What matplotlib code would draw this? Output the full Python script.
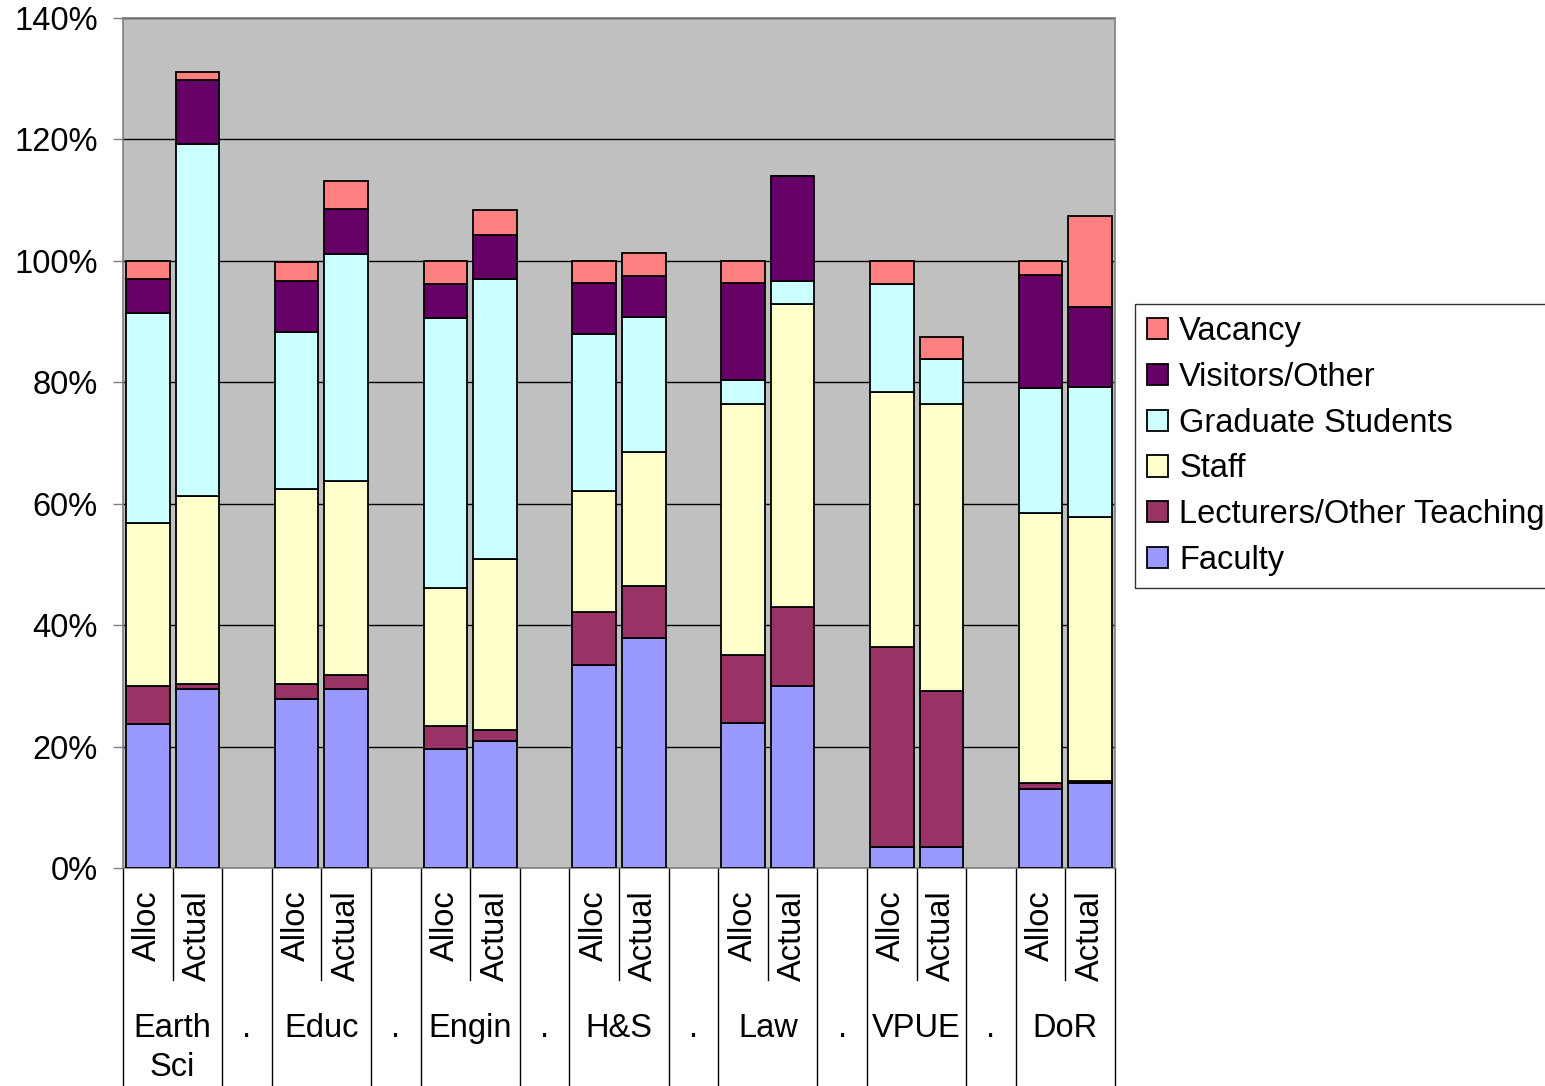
import matplotlib
matplotlib.use("Agg")
import matplotlib.pyplot as plt
from matplotlib.lines import Line2D
import numpy as np

plt.rcParams['font.family'] = ['Liberation Sans', 'DejaVu Sans']

groups = ["Earth\nSci", "Educ", "Engin", "H&S", "Law", "VPUE", "DoR"]
sub_labels = ["Alloc", "Actual"]
series_names = ["Faculty", "Lecturers/Other Teaching", "Staff",
                "Graduate Students", "Visitors/Other", "Vacancy"]
colors = ["#9999FF", "#993366", "#FFFFCC", "#CCFFFF", "#660066", "#FF8080"]

# values in %, order: EarthSci Alloc, Actual, Educ Alloc, Actual, ...
faculty   = [23.7, 29.5, 27.8, 29.5, 19.6, 20.9, 33.4, 37.9, 23.9, 30.0, 3.5, 3.5, 13.0, 14.0]
lecturers = [6.3, 0.8, 2.5, 2.3, 3.8, 1.8, 8.8, 8.6, 11.2, 13.0, 32.9, 25.7, 1.0, 0.3]
staff     = [26.8, 31.0, 32.1, 31.9, 22.7, 28.2, 19.9, 22.0, 41.3, 49.9, 42.0, 47.2, 44.5, 43.5]
grad      = [34.6, 58.0, 25.9, 37.4, 44.5, 46.1, 25.9, 22.3, 4.0, 3.8, 17.8, 7.4, 20.6, 21.4]
visitors  = [5.6, 10.5, 8.4, 7.4, 5.6, 7.3, 8.4, 6.7, 16.0, 17.3, 0.0, 0.0, 18.6, 13.2]
vacancy   = [3.0, 1.3, 3.1, 4.7, 3.8, 4.1, 3.6, 3.8, 3.6, 0.0, 3.8, 3.7, 2.3, 15.0]

series = [faculty, lecturers, staff, grad, visitors, vacancy]

FS = 23.5

fig = plt.figure(figsize=(15.45, 10.86), dpi=100)
ax = fig.add_axes([123/1545, (1086-868)/1086, (1115-123)/1545, 850/1086])
ax.set_facecolor("#C0C0C0")

n_groups = len(groups)
positions = []
for g in range(n_groups):
    positions += [3*g, 3*g + 1]
positions = np.array(positions, dtype=float)
n_slots = 3*n_groups - 1

bottom = np.zeros(len(positions))
for vals, col, name in zip(series, colors, series_names):
    v = np.array(vals)
    ax.bar(positions, v, width=0.88, bottom=bottom, color=col,
           edgecolor="black", linewidth=1.3, label=name, zorder=3)
    bottom += v

ax.set_xlim(-0.5, n_slots - 0.5)
ax.set_ylim(0, 140)
ax.set_yticks(np.arange(0, 141, 20))
ax.set_yticklabels([f"{t}%" for t in range(0, 141, 20)], fontsize=FS)
ax.yaxis.grid(True, color="black", linewidth=1.0, zorder=1)
ax.set_axisbelow(True)
ax.tick_params(axis='y', direction='out', length=7, width=1, color="#808080", pad=11)
ax.set_xticks([])
for s in ax.spines.values():
    s.set_color("#808080")
    s.set_linewidth(1.2)

trans = ax.get_xaxis_transform()
y_short = -112/850
y_full = -218/850 - 0.01
for k in range(n_slots + 1):
    xb = k - 0.5
    inside = (k % 3 == 1)
    ax.add_line(Line2D([xb, xb], [0, y_short if inside else y_full],
                       transform=trans, color="black", linewidth=1.0, clip_on=False))
for i, p in enumerate(positions):
    ax.text(p, -22/850, sub_labels[i % 2], transform=trans, rotation=90,
            ha='center', va='top', fontsize=FS)
for g, name in enumerate(groups):
    ax.text(3*g + 0.5, -145/850, name, transform=trans, ha='center', va='top',
            fontsize=FS, linespacing=1.35)
    if g < n_groups - 1:
        ax.text(3*g + 2, -145/850, ".", transform=trans, ha='center', va='top',
                fontsize=FS)

handles, labels = ax.get_legend_handles_labels()
leg = fig.legend(handles[::-1], labels[::-1], loc='upper left',
                 bbox_to_anchor=(1135/1545, (1086-304)/1086),
                 fontsize=FS, frameon=True, fancybox=False, edgecolor="black",
                 handlelength=0.62, handleheight=0.62, handletextpad=0.35,
                 labelspacing=0.45, borderpad=0.38, borderaxespad=0)
leg.get_frame().set_linewidth(1.0)

fig.savefig("out.png", dpi=100, facecolor="white")
